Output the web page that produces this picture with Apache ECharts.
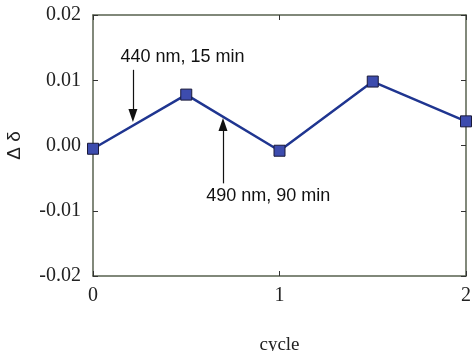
<!DOCTYPE html>
<html>
<head>
<meta charset="utf-8">
<script src="https://cdn.jsdelivr.net/npm/echarts@6/dist/echarts.min.js"></script>
<style>html,body{margin:0;padding:0;background:#fff;}#c{width:472px;height:351px;}</style>
</head>
<body>
<div id="c"></div>
<script>
var cycles = [0, 0.5, 1, 1.5, 2];
var delta = [-0.0005, 0.0078, -0.0008, 0.0098, 0.0037];
var xTicks = [0, 1, 2];
var yTicks = [-0.02, -0.01, 0.00, 0.01, 0.02];
var annotations = [
  {text: '440 nm, 15 min', at: [0.48, 0.0135], arrowFrom: [0.214, 0.0116], arrowTo: [0.214, 0.0046]},
  {text: '490 nm, 90 min', at: [0.94, -0.0078], arrowFrom: [0.697, -0.0058], arrowTo: [0.697, 0.0032]}
];

var frame = '#58624f';
var tickColor = '#333';
var chart = echarts.init(document.getElementById('c'));
function axisLine() { return {show: true, onZero: false, lineStyle: {color: frame, width: 1.5}}; }
function axisTick() { return {show: true, inside: true, length: 5, lineStyle: {color: tickColor, width: 1}}; }
chart.setOption({
  animation: false,
  grid: {left: 93, right: 6, top: 15, bottom: 75, containLabel: false, outerBoundsMode: 'none'},
  xAxis: [
    {
      type: 'value', min: 0, max: 2, interval: 1, position: 'bottom',
      axisLine: axisLine(), axisTick: axisTick(), splitLine: {show: false},
      axisLabel: {color: '#222', fontFamily: 'Liberation Serif', fontSize: 20, margin: 10},
      name: 'cycle', nameLocation: 'middle', nameGap: 60,
      nameTextStyle: {color: '#222', fontFamily: 'Liberation Serif', fontSize: 19}
    },
    {
      type: 'value', min: 0, max: 2, interval: 1, position: 'top',
      axisLine: axisLine(), axisTick: axisTick(), splitLine: {show: false},
      axisLabel: {show: false}
    }
  ],
  yAxis: [
    {
      type: 'value', min: -0.02, max: 0.02, interval: 0.01, position: 'left',
      axisLine: axisLine(), axisTick: axisTick(), splitLine: {show: false},
      axisLabel: {color: '#222', fontFamily: 'Liberation Serif', fontSize: 20, margin: 12,
        formatter: function (v) { return v.toFixed(2); }},
      name: 'Δ δ', nameLocation: 'middle', nameGap: 69, nameRotate: 90,
      nameTextStyle: {color: '#222', fontFamily: 'Liberation Sans', fontSize: 19}
    },
    {
      type: 'value', min: -0.02, max: 0.02, interval: 0.01, position: 'right',
      axisLine: axisLine(), axisTick: axisTick(), splitLine: {show: false},
      axisLabel: {show: false}
    }
  ],
  series: [{
    type: 'line',
    data: cycles.map(function (c, i) { return [c, delta[i]]; }),
    symbol: 'rect', symbolSize: 11,
    lineStyle: {color: '#1f3590', width: 2.5},
    itemStyle: {color: '#3d4cae', borderColor: '#1a1a3a', borderWidth: 1},
    clip: false,
    markLine: {
      silent: true, symbol: ['none', 'triangle'], symbolSize: [9, 13],
      lineStyle: {color: '#111', width: 1.2, type: 'solid'},
      label: {show: false},
      data: annotations.map(function (a) { return [{coord: a.arrowFrom}, {coord: a.arrowTo}]; })
    },
    markPoint: {
      silent: true, symbol: 'circle', symbolSize: 1,
      itemStyle: {color: 'rgba(0,0,0,0)'},
      label: {show: true, position: 'inside', color: '#111', fontFamily: 'Liberation Sans', fontSize: 18,
        formatter: function (p) { return p.name; }},
      data: annotations.map(function (a) { return {name: a.text, coord: a.at}; })
    }
  }]
});
</script>
</body>
</html>
